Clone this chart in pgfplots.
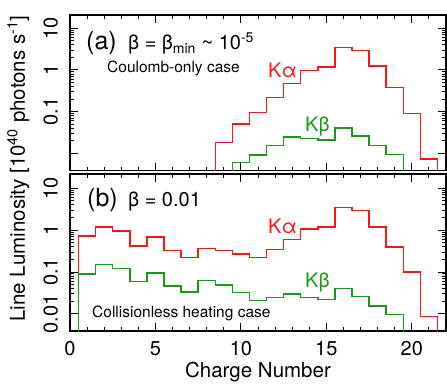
\documentclass[border=0pt]{standalone}
\usepackage{pgfplots}
\pgfplotsset{compat=1.18}
\usepackage{fontspec}
\setmainfont{TeX Gyre Heros}
\definecolor{myred}{RGB}{255,20,20}
\definecolor{mygreen}{RGB}{30,150,30}
\pgfplotsset{
  mypanel/.style={
    scale only axis, width=376bp,
    xmin=0, xmax=22,
    axis line style={line width=1.3bp},
    tick align=inside,
    major tick length=8bp, minor tick length=4bp,
    tick style={black, line width=1bp},
    xtick={0,5,10,15,20}, minor xtick={0,1,...,22},
    ytick={0.01,0.1,1,10},
    tick label style={font=\fontsize{20bp}{24bp}\selectfont},
    yticklabel style={rotate=90, anchor=south, inner xsep=0pt, inner ysep=12bp},
    xticklabel style={inner sep=0pt, anchor=base, yshift=-24bp},
  },
  myhist/.style={const plot mark left, line width=1.4bp},
}
\begin{document}
\begin{tikzpicture}
\begin{axis}[ymode=log, mypanel, height=155.5bp, ymin=0.0039, ymax=20.8,
  /pgf/number format/assume math mode=true, at={(70bp,217.5bp)}, anchor=south west,
  yticklabels={,0.1,1,10}, xticklabels={}]
\addplot[myhist, myred] coordinates {
(8.5,0.0001) (8.5,0.0185) (9.5,0.051) (10.5,0.095) (11.5,0.22) (12.5,0.47)
(13.5,0.96) (14.5,1.18) (15.5,3.5) (16.5,2.96) (17.5,1.25) (18.5,0.38)
(19.5,0.091) (20.5,0.0074) (21.5,0.0074) (21.5,0.0001)};
\addplot[myhist, mygreen] coordinates {
(9.5,0.0001) (9.5,0.006) (10.5,0.0091) (11.5,0.0156) (12.5,0.025) (13.5,0.0225)
(14.5,0.021) (15.5,0.041) (16.5,0.026) (17.5,0.0156) (18.5,0.0095)
(19.5,0.0095) (19.5,0.0001)};
\node[anchor=base west, inner sep=0pt, font=\fontsize{25bp}{30bp}\selectfont] at (rel axis cs:0.0426,0.775) {(a)};
\node[anchor=base west, inner sep=0pt, font=\fontsize{20bp}{24bp}\selectfont] at (rel axis cs:0.1543,0.775) {β = β\textsubscript{min} \char"007E{} 10\textsuperscript{-5}};
\node[anchor=base west, inner sep=0pt, font=\fontsize{15.5bp}{18bp}\selectfont] at (rel axis cs:0.0984,0.633) {Coulomb-only case};
\node[anchor=base west, inner sep=0pt, text=myred, font=\fontsize{20bp}{24bp}\selectfont] at (rel axis cs:0.5266,0.601) {Kα};
\node[anchor=base west, inner sep=0pt, text=mygreen, font=\fontsize{20bp}{24bp}\selectfont] at (rel axis cs:0.625,0.248) {Kβ};
\end{axis}
\begin{axis}[ymode=log, mypanel, height=157bp, ymin=0.0039, ymax=22,
  /pgf/number format/assume math mode=true, at={(70bp,57bp)}, anchor=south west,
  yticklabels={0.01,0.1,1,10},
  xlabel={Charge Number},
  xlabel style={at={(axis description cs:0.5,0)}, anchor=base, inner sep=0pt, yshift=-46.5bp, font=\fontsize{20.5bp}{24bp}\selectfont},
  ylabel={Line Luminosity [10\textsuperscript{40} photons s\textsuperscript{-1}]},
  ylabel style={at={(axis description cs:-0.1197,1.035)}, anchor=base, inner sep=0pt, font=\fontsize{20.5bp}{24bp}\selectfont},
]
\addplot[myhist, myred] coordinates {
(0.5,0.0001) (0.5,0.72) (1.5,1.2) (2.5,0.96) (3.5,0.42) (4.5,0.69) (5.5,0.33)
(6.5,0.22) (7.5,0.36) (8.5,0.33) (9.5,0.27) (10.5,0.22) (11.5,0.35)
(12.5,0.59) (13.5,1.07) (14.5,1.2) (15.5,3.45) (16.5,3.0) (17.5,1.2)
(18.5,0.40) (19.5,0.10) (20.5,0.0087) (21.5,0.0087) (21.5,0.0001)};
\addplot[myhist, mygreen] coordinates {
(0.5,0.0001) (0.5,0.089) (1.5,0.15) (2.5,0.12) (3.5,0.059) (4.5,0.094) (5.5,0.046)
(6.5,0.033) (7.5,0.062) (8.5,0.049) (9.5,0.032) (10.5,0.021) (11.5,0.025)
(12.5,0.030) (13.5,0.025) (14.5,0.022) (15.5,0.041) (16.5,0.026) (17.5,0.0155)
(18.5,0.0098) (19.5,0.0098) (19.5,0.0001)};
\node[anchor=base west, inner sep=0pt, font=\fontsize{25bp}{30bp}\selectfont] at (rel axis cs:0.0452,0.79) {(b)};
\node[anchor=base west, inner sep=0pt, font=\fontsize{20bp}{24bp}\selectfont] at (rel axis cs:0.1543,0.79) {β = 0.01};
\node[anchor=base west, inner sep=0pt, text=myred, font=\fontsize{20bp}{24bp}\selectfont] at (rel axis cs:0.5266,0.618) {Kα};
\node[anchor=base west, inner sep=0pt, text=mygreen, font=\fontsize{20bp}{24bp}\selectfont] at (rel axis cs:0.625,0.274) {Kβ};
\node[anchor=base west, inner sep=0pt, font=\fontsize{15.5bp}{18bp}\selectfont] at (rel axis cs:0.0585,0.089) {Collisionless heating case};
\end{axis}
\pgfresetboundingbox
\path[use as bounding box] (0,0) rectangle (447bp,388bp);
\end{tikzpicture}
\end{document}
